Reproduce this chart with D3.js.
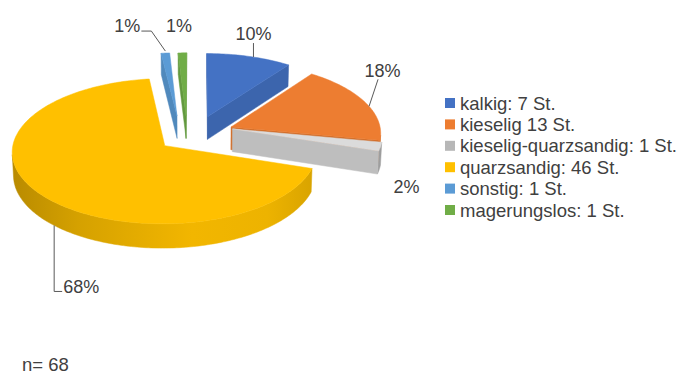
<!DOCTYPE html>
<html>
<head>
<meta charset="utf-8">
<script src="https://cdn.jsdelivr.net/npm/d3@7"></script>
<style>
  body { margin: 0; background: #ffffff; }
  svg { display: block; }
</style>
</head>
<body>
<svg id="chart" width="681" height="375"></svg>
<script>
// ---- data ----
const categories = ["kalkig", "kieselig", "kieselig-quarzsandig", "quarzsandig", "sonstig", "magerungslos"];
const percentages = [10, 18, 2, 68, 1, 1];
const pieceCounts = [7, 13, 1, 46, 1, 1];
const legendLabels = ["kalkig: 7 St.", "kieselig 13 St.", "kieselig-quarzsandig: 1 St.", "quarzsandig: 46 St.", "sonstig: 1 St.", "magerungslos: 1 St."];
const percentLabels = percentages.map(p => p + "%");
const sampleNote = "n= 68";

// ---- styles ----
const colors = ["#4472C4", "#ED7D31", "#B7B7B7", "#FFC000", "#5B9BD5", "#70AD47"];
const textColor = "#404040";
const font = "'Liberation Sans', Arial, sans-serif";

// 3D view of the pie: plane coordinates (u right, v back), h up
const view = { cx: 196, cy: 133.5, R: 150, tilt: 28 * Math.PI / 180, dist: 1765, depth: 26 };
// explosion of each slice: distance and optional direction (degrees)
const explode = [
  { d: 38 }, { d: 38 }, { d: 38, dir: 75 }, { d: 40 }, { d: 42.7, dir: 333 }, { d: 39.3, dir: 345 }
];
// label placement relative to an anchor on the slice rim
const labelStyle = [
  { frac: 0.55, dx: 0,    dy: -17, leader: [[0, 0], [0, -14]] },
  { frac: 0.56, dx: 13.5, dy: -29, leader: [[0, 0], [9, -27]] },
  { frac: 0.5,  dx: 26,   dy: 46,  leader: null },
  { frac: 0.47, dx: 27,   dy: 68,  leader: [[0, 0], [0, 66], [8, 66]], bottom: true },
  { frac: 0.5,  dx: -38,  dy: -21, leader: [[0, -2], [-14, -22], [-24, -22]] },
  { frac: 0.5,  dx: -3.5, dy: -21, leader: null }
];

const sinT = Math.sin(view.tilt), cosT = Math.cos(view.tilt);
const camV = -view.dist * cosT;

function project(u, v, h) {
  const yc = h * cosT + v * sinT;
  const zc = -v * cosT + h * sinT;
  const k = view.dist / (view.dist - zc);
  return [view.cx + u * k, view.cy - yc * k];
}

const svg = d3.select("#chart");
const defs = svg.append("defs");
const line = d3.line().curve(d3.curveLinearClosed);
const openLine = d3.line();

const pie = d3.pie().sort(null).value(d => d);
const arcs = pie(percentages);

const slices = arcs.map((a, i) => {
  const mid = (a.startAngle + a.endAngle) / 2;
  const dir = explode[i].dir != null ? explode[i].dir * Math.PI / 180 : mid;
  const eu = explode[i].d * Math.sin(dir), ev = explode[i].d * Math.cos(dir);
  const n = Math.max(2, Math.ceil((a.endAngle - a.startAngle) / (Math.PI / 180)));
  const angles = d3.range(n + 1).map(j => a.startAngle + (a.endAngle - a.startAngle) * j / n);
  return { i, a, eu, ev, angles };
});

function rim(s, ang, h) {
  return project(s.eu + view.R * Math.sin(ang), s.ev + view.R * Math.cos(ang), h);
}

// draw far slices first
const order = slices.slice().sort((p, q) => q.ev - p.ev);

order.forEach(s => {
  const base = d3.color(colors[s.i]);
  const g = svg.append("g").attr("class", "slice slice-" + categories[s.i]);
  const h0 = 0, h1 = -view.depth;
  const apexTop = project(s.eu, s.ev, h0);
  const apexBot = project(s.eu, s.ev, h1);

  // side wall gradient across the slice width
  const xs = s.angles.map(an => rim(s, an, h0)[0]).concat([apexTop[0]]);
  const gid = "side-" + s.i;
  const grad = defs.append("linearGradient").attr("id", gid)
    .attr("gradientUnits", "userSpaceOnUse")
    .attr("x1", d3.min(xs)).attr("x2", d3.max(xs)).attr("y1", 0).attr("y2", 0);
  [[0, 0.9], [0.22, 0.5], [0.6, 0.15], [0.85, 0.2], [1, 0.45]].forEach(([o, dk]) => {
    grad.append("stop").attr("offset", o).attr("stop-color", base.darker(dk).formatHex());
  });

  // outer wall: contiguous runs facing the camera
  let run = [];
  const runs = [];
  s.angles.forEach(an => {
    const u = s.eu + view.R * Math.sin(an), v = s.ev + view.R * Math.cos(an);
    const dot = -u * Math.sin(an) + (camV - v) * Math.cos(an);
    if (dot > 0) run.push(an);
    else { if (run.length > 1) runs.push(run); run = []; }
  });
  if (run.length > 1) runs.push(run);
  runs.forEach(r => {
    const pts = r.map(an => rim(s, an, h0)).concat(r.slice().reverse().map(an => rim(s, an, h1)));
    g.append("path").attr("d", line(pts)).attr("fill", `url(#${gid})`)
      .attr("stroke", `url(#${gid})`).attr("stroke-width", 0.5);
  });

  // cut faces at the start and end angles
  const a0 = s.a.startAngle, a1 = s.a.endAngle;
  const cuts = [
    { ang: a0, nu: -Math.cos(a0), nv: Math.sin(a0) },
    { ang: a1, nu: Math.cos(a1), nv: -Math.sin(a1) }
  ];
  cuts.forEach(c => {
    const dot = c.nu * (-s.eu) + c.nv * (camV - s.ev);
    if (dot <= 0) return;
    const pts = [apexTop, rim(s, c.ang, h0), rim(s, c.ang, h1), apexBot];
    const fill = s.i === 2 ? base.brighter(0.1).formatHex() : base.darker(0.35).formatHex();
    g.append("path").attr("d", line(pts)).attr("fill", fill)
      .attr("stroke", fill).attr("stroke-width", 0.5);
  });

  // top face
  const top = [apexTop].concat(s.angles.map(an => rim(s, an, h0)));
  const topFill = s.i === 2 ? base.brighter(0.5).formatHex() : base.formatHex();
  g.append("path").attr("d", line(top)).attr("fill", topFill)
    .attr("stroke", topFill).attr("stroke-width", 0.5);
});

// ---- percentage labels with leader lines ----
const labels = svg.append("g").attr("class", "labels");
slices.forEach(s => {
  const st = labelStyle[s.i];
  const ang = s.a.startAngle + (s.a.endAngle - s.a.startAngle) * st.frac;
  const anchor = rim(s, ang, st.bottom ? -view.depth : 0);
  if (st.leader) {
    labels.append("path")
      .attr("d", openLine(st.leader.map(([dx, dy]) => [anchor[0] + dx, anchor[1] + dy])))
      .attr("fill", "none").attr("stroke", "#595959").attr("stroke-width", 1);
  }
  labels.append("text")
    .attr("x", anchor[0] + st.dx).attr("y", anchor[1] + st.dy)
    .attr("text-anchor", "middle")
    .attr("font-family", font).attr("font-size", 18).attr("fill", textColor)
    .text(percentLabels[s.i]);
});

// ---- legend ----
const legendY = d3.scalePoint().domain(categories).range([103, 210]);
const legend = svg.append("g").attr("class", "legend");
categories.forEach((c, i) => {
  const y = legendY(c);
  legend.append("rect").attr("x", 445).attr("y", y - 5).attr("width", 10).attr("height", 10)
    .attr("fill", colors[i]);
  legend.append("text").attr("x", 460).attr("y", y + 6.5)
    .attr("font-family", font).attr("font-size", 18.5).attr("fill", textColor)
    .text(legendLabels[i]);
});

// ---- sample size note ----
svg.append("text").attr("x", 22).attr("y", 371)
  .attr("font-family", font).attr("font-size", 18.5).attr("fill", textColor)
  .text(sampleNote);
</script>
</body>
</html>
